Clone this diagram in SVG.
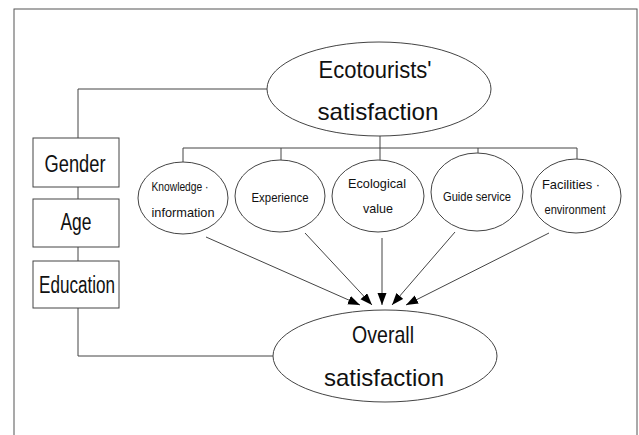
<svg xmlns="http://www.w3.org/2000/svg" width="639" height="435" viewBox="0 0 639 435">
<style>
.ln{fill:none;stroke:#444;stroke-width:1}
.nd{fill:#fff;stroke:#444;stroke-width:1}
.big{font-family:"Liberation Sans",Arial,sans-serif;font-size:24px;fill:#111;text-anchor:middle}
.box{font-family:"Liberation Sans",Arial,sans-serif;font-size:23px;fill:#111;text-anchor:middle}
.sm{font-family:"Liberation Sans",Arial,sans-serif;font-size:13.5px;fill:#111;text-anchor:middle}
</style>
<defs>
<marker id="ah" markerUnits="userSpaceOnUse" markerWidth="13" markerHeight="10" refX="12" refY="4.5" orient="auto">
<path d="M0,0 L12,4.5 L0,9 Z" fill="#000"/>
</marker>
</defs>
<rect x="14" y="9" width="623" height="440" fill="none" stroke="#555" stroke-width="1"/>
<g id="connectors">
<path class="ln" d="M267 89 H78 V138"/>
<path class="ln" d="M78 187 V199"/>
<path class="ln" d="M78 247 V261"/>
<path class="ln" d="M78 308 V356 H273"/>
<path class="ln" d="M380 136 V148"/>
<path class="ln" d="M183 162 V148 H577 V159"/>
<path class="ln" d="M281 148 V160"/>
<path class="ln" d="M380 148 V160"/>
<path class="ln" d="M478 148 V153"/>
<line class="ln" x1="206" y1="237" x2="360" y2="305" marker-end="url(#ah)"/>
<line class="ln" x1="305" y1="233" x2="372" y2="305" marker-end="url(#ah)"/>
<line class="ln" x1="382" y1="238" x2="382" y2="305" marker-end="url(#ah)"/>
<line class="ln" x1="455" y1="232" x2="392" y2="305" marker-end="url(#ah)"/>
<line class="ln" x1="549" y1="233" x2="406" y2="305" marker-end="url(#ah)"/>
</g>
<g id="ecotourists">
<ellipse class="nd" cx="379" cy="89" rx="112" ry="47"/>
<text class="big" x="375" y="78" textLength="113" lengthAdjust="spacingAndGlyphs">Ecotourists'</text>
<text class="big" x="378" y="120" textLength="121" lengthAdjust="spacingAndGlyphs">satisfaction</text>
</g>
<g id="gender">
<rect class="nd" x="33" y="138" width="86" height="49"/>
<text class="box" x="75" y="172" textLength="61" lengthAdjust="spacingAndGlyphs">Gender</text>
</g>
<g id="age">
<rect class="nd" x="33" y="199" width="86" height="48"/>
<text class="box" x="76" y="230" textLength="31" lengthAdjust="spacingAndGlyphs">Age</text>
</g>
<g id="education">
<rect class="nd" x="33" y="261" width="86" height="47"/>
<text class="box" x="77" y="293" textLength="76" lengthAdjust="spacingAndGlyphs">Education</text>
</g>
<g id="knowledge">
<ellipse class="nd" cx="183" cy="198" rx="45" ry="36"/>
<text class="sm" x="180" y="191" textLength="57" lengthAdjust="spacingAndGlyphs">Knowledge ·</text>
<text class="sm" x="183" y="217" textLength="63" lengthAdjust="spacingAndGlyphs">information</text>
</g>
<g id="experience">
<ellipse class="nd" cx="280" cy="196" rx="45" ry="36"/>
<text class="sm" x="280" y="202" textLength="57" lengthAdjust="spacingAndGlyphs">Experience</text>
</g>
<g id="ecological">
<ellipse class="nd" cx="378" cy="196" rx="46" ry="36"/>
<text class="sm" x="377" y="188" textLength="58" lengthAdjust="spacingAndGlyphs">Ecological</text>
<text class="sm" x="378" y="213" textLength="30" lengthAdjust="spacingAndGlyphs">value</text>
</g>
<g id="guide">
<ellipse class="nd" cx="477" cy="192" rx="46" ry="39"/>
<text class="sm" x="477" y="201" textLength="68" lengthAdjust="spacingAndGlyphs">Guide service</text>
</g>
<g id="facilities">
<ellipse class="nd" cx="576" cy="196" rx="45" ry="37"/>
<text class="sm" x="571" y="189" textLength="58" lengthAdjust="spacingAndGlyphs">Facilities ·</text>
<text class="sm" x="575" y="214" textLength="61" lengthAdjust="spacingAndGlyphs">environment</text>
</g>
<g id="overall">
<ellipse class="nd" cx="385" cy="356" rx="112" ry="46"/>
<text class="big" x="383" y="343" textLength="62" lengthAdjust="spacingAndGlyphs">Overall</text>
<text class="big" x="384" y="386" textLength="120" lengthAdjust="spacingAndGlyphs">satisfaction</text>
</g>
</svg>
